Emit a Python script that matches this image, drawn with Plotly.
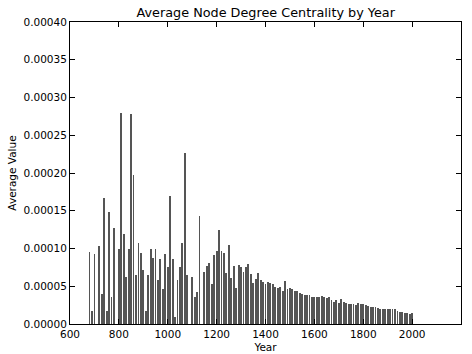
import plotly.graph_objects as go

years = [680, 690, 700, 720, 730, 740, 750, 760, 770, 780,
         800, 810, 820, 830, 840, 850, 860, 870, 880, 890,
         900, 910, 920, 930, 940, 950, 960, 970, 980, 990,
         1000, 1010, 1020, 1030, 1040, 1050, 1060, 1070, 1080,
         1100, 1110, 1120, 1130, 1150, 1160, 1170, 1180, 1190,
         1200, 1210, 1220, 1230, 1240, 1250, 1260, 1270, 1280, 1290,
         1300, 1310, 1320, 1330, 1340, 1350, 1360, 1370, 1380, 1390,
         1400, 1410, 1420, 1430, 1440, 1450, 1460, 1470, 1480, 1490,
         1500, 1510, 1520, 1530, 1540, 1550, 1560, 1570, 1580, 1590,
         1600, 1610, 1620, 1630, 1640, 1650, 1660, 1670, 1680, 1690,
         1700, 1710, 1720, 1730, 1740, 1750, 1760, 1770, 1780, 1790,
         1800, 1810, 1820, 1830, 1840, 1850, 1860, 1870, 1880, 1890,
         1900, 1910, 1920, 1930, 1940, 1950, 1960, 1970, 1980, 1990,
         2000]

values = [0.0000958, 0.0000176, 0.0000923, 0.000103, 0.0000397, 0.000167, 0.0000176, 0.000148, 0.0000362, 0.000127,
          0.0000989, 0.000279, 0.000119, 0.0000618, 0.000100, 0.000278, 0.000197, 0.0000649, 0.000107, 0.0000945,
          0.0000715, 0.0000176, 0.0000649, 0.000100, 0.0000870, 0.0000993, 0.0000583, 0.0000857, 0.0000460, 0.0000923,
          0.0000759, 0.000170, 0.0000861, 0.0000088, 0.0000583, 0.0000751, 0.000107, 0.000227, 0.0000649,
          0.0000627, 0.0000362, 0.0000428, 0.000143, 0.0000685, 0.0000772, 0.0000804, 0.0000526, 0.0000914,
          0.0000967, 0.000125, 0.0000971, 0.0000936, 0.0000671, 0.000104, 0.0000605, 0.0000768, 0.0000473, 0.0000786,
          0.0000759, 0.0000685, 0.0000751, 0.0000791, 0.0000658, 0.0000547, 0.0000596, 0.0000671, 0.0000583, 0.0000561,
          0.0000526, 0.0000561, 0.0000547, 0.0000526, 0.0000494, 0.0000481, 0.0000486, 0.0000441, 0.0000570, 0.0000468,
          0.0000472, 0.0000468, 0.0000437, 0.0000437, 0.0000406, 0.0000393, 0.0000384, 0.0000380, 0.0000380, 0.0000362,
          0.0000362, 0.0000362, 0.0000362, 0.0000375, 0.0000362, 0.0000349, 0.0000362, 0.0000318, 0.0000296, 0.0000318,
          0.0000274, 0.0000327, 0.0000287, 0.0000274, 0.0000270, 0.0000265, 0.0000265, 0.0000252, 0.0000274, 0.0000270,
          0.0000265, 0.0000247, 0.0000238, 0.0000229, 0.0000221, 0.0000221, 0.0000216, 0.0000203, 0.0000199, 0.0000199,
          0.0000199, 0.0000199, 0.0000199, 0.0000199, 0.0000172, 0.0000163, 0.0000163, 0.0000150, 0.0000141, 0.0000128,
          0.0000141]

x_ticks = [600, 800, 1000, 1200, 1400, 1600, 1800, 2000, 2200]
y_ticks = [0.0, 0.00005, 0.0001, 0.00015, 0.0002, 0.00025, 0.0003, 0.00035, 0.0004]

font_family = "DejaVu Sans"

fig = go.Figure()
fig.add_trace(go.Bar(
    x=years, y=values, width=3.5,
    marker=dict(color="#555555", line=dict(width=0)),
))

axis_common = dict(
    showgrid=False, zeroline=False, showline=True, linecolor="black", linewidth=1,
    mirror="ticks", ticks="inside", ticklen=5, tickcolor="black", tickwidth=1,
    tickfont=dict(family=font_family, size=10.5, color="black"),
)

fig.update_layout(
    width=472, height=354,
    margin=dict(l=70, r=11, t=22, b=30, autoexpand=False),
    paper_bgcolor="white", plot_bgcolor="white",
    showlegend=False,
    bargap=0,
    title=dict(text="Average Node Degree Centrality by Year", x=0.563, xanchor="center",
               y=0.965, yanchor="middle",
               font=dict(family=font_family, size=12.8, color="black")),
    xaxis=dict(range=[600, 2200], tickvals=x_ticks, ticktext=[str(v) for v in x_ticks],
               title=dict(text="Year", standoff=5, font=dict(family=font_family, size=10.5, color="black")),
               automargin=False, **axis_common),
    yaxis=dict(range=[0, 0.0004], tickvals=y_ticks, ticktext=[f"{v:.5f}" for v in y_ticks],
               title=dict(text="Average Value", standoff=4, font=dict(family=font_family, size=10.5, color="black")),
               automargin=False, **axis_common),
)

fig.write_html("out.html")
